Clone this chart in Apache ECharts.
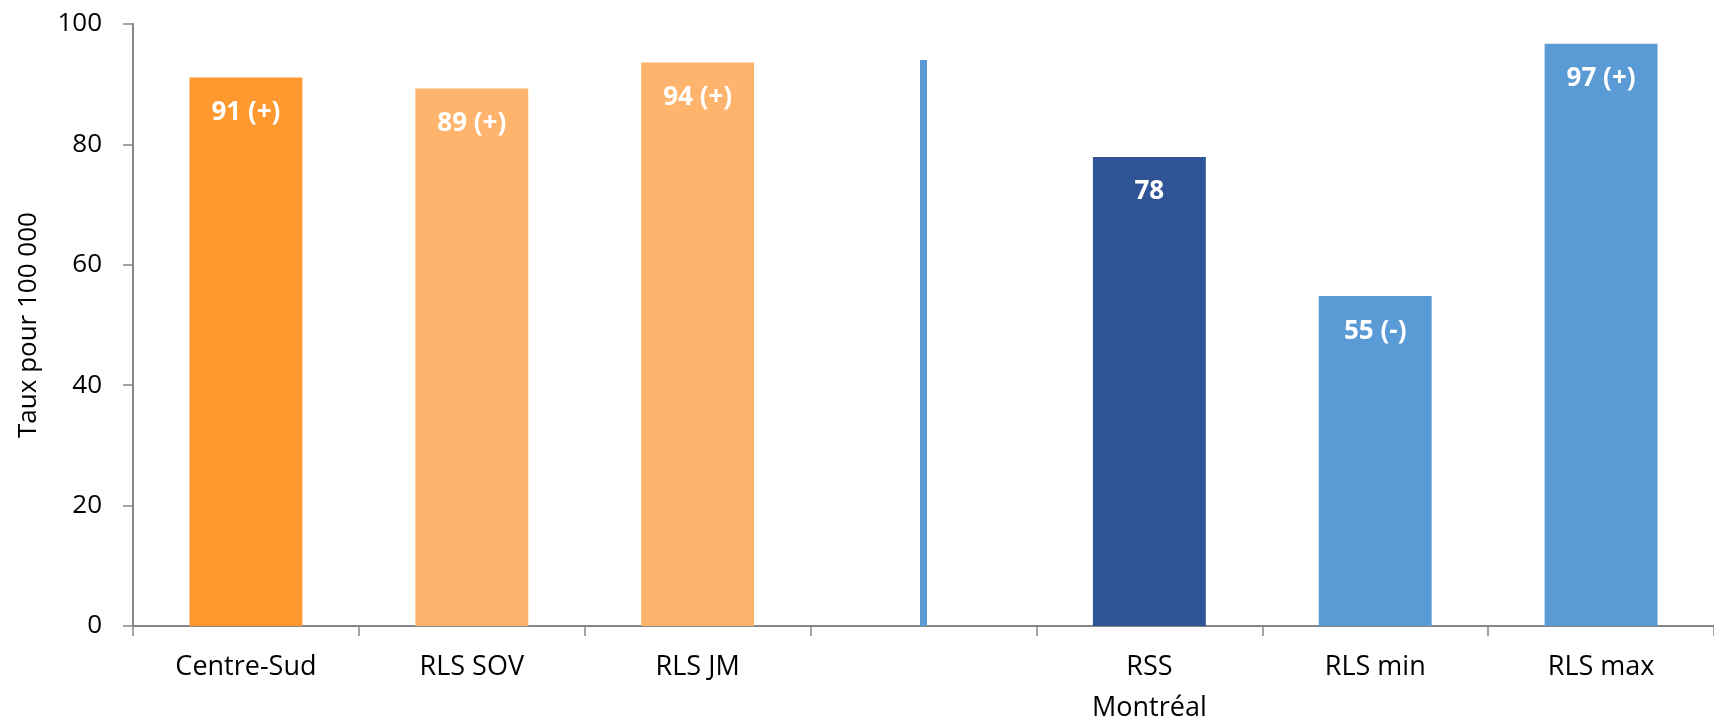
<!DOCTYPE html>
<html>
<head>
<meta charset="utf-8">
<script src="https://cdn.jsdelivr.net/npm/echarts@6/dist/echarts.min.js"></script>
<style>
  html, body { margin: 0; padding: 0; background: #fff; }
  #chart { width: 1714px; height: 719px; }
</style>
</head>
<body>
<div id="chart"></div>
<script>
// catégories (la 4e est vide : emplacement du séparateur)
var categories = ['Centre-Sud', 'RLS SOV', 'RLS JM', '', 'RSS\nMontréal', 'RLS min', 'RLS max']
var values = [91.1, 89.3, 93.6, null, 77.9, 54.8, 96.7]
var labels = ['91 (+)', '89 (+)', '94 (+)', '', '78', '55 (-)', '97 (+)']
var colors = ['#ff982f', '#ffb46d', '#ffb46d', '#5b9bd5', '#2f5597', '#5b9bd5', '#5b9bd5']
var separator = [null, null, null, 94, null, null, null] // trait vertical bleu
var yTicks = [0, 20, 40, 60, 80, 100]

var chart = echarts.init(document.getElementById('chart'))

var axisGrey = '#868686'
var font = 'Open Sans, Liberation Sans, sans-serif'

chart.setOption({
  backgroundColor: '#fff',
  animation: false,
  grid: { left: 133, right: 0, top: 24, bottom: 93, outerBoundsMode: 'none' },
  xAxis: [{
    type: 'category',
    data: categories,
    axisLine: { lineStyle: { color: axisGrey, width: 2 } },
    axisTick: { show: true, length: 10, lineStyle: { color: axisGrey, width: 1.5 } },
    axisLabel: {
      color: '#000',
      fontSize: 27,
      fontFamily: font,
      margin: 21,
      lineHeight: 41,
      interval: 0
    }
  }, {
    type: 'category',
    data: categories,
    show: false
  }],
  yAxis: {
    type: 'value',
    min: yTicks[0],
    max: yTicks[yTicks.length - 1],
    interval: 20,
    name: 'Taux pour 100 000',
    nameLocation: 'middle',
    nameGap: 91,
    nameRotate: 90,
    nameTextStyle: { color: '#000', fontSize: 26, fontFamily: font },
    axisLine: { show: true, lineStyle: { color: axisGrey, width: 2 } },
    axisTick: { show: true, length: 10, lineStyle: { color: axisGrey, width: 1.5 } },
    axisLabel: { color: '#000', fontSize: 26, fontFamily: font, margin: 31 },
    splitLine: { show: false }
  },
  series: [{
    type: 'bar',
    xAxisIndex: 0,
    barWidth: '50%',
    data: values.map(function (v, i) {
      return { value: v, itemStyle: { color: colors[i] } }
    }),
    label: {
      show: true,
      position: 'insideTop',
      distance: 22,
      color: '#fff',
      fontWeight: 'bold',
      fontSize: 26,
      fontFamily: font,
      formatter: function (p) { return labels[p.dataIndex] }
    }
  }, {
    type: 'bar',
    xAxisIndex: 1,
    barWidth: 7,
    data: separator,
    itemStyle: { color: '#5b9bd5' },
    silent: true
  }]
})
</script>
</body>
</html>
